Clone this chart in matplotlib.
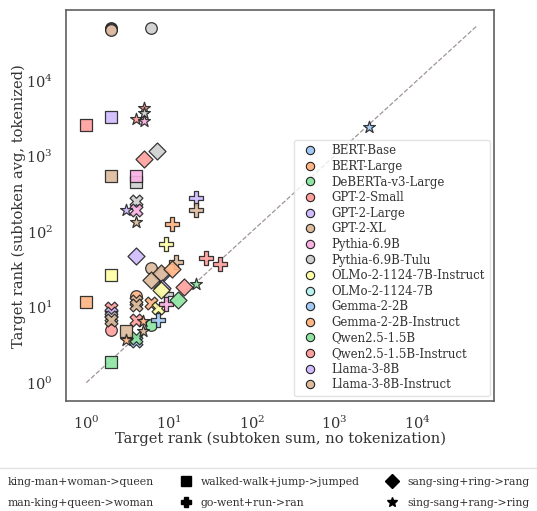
import matplotlib
matplotlib.use("Agg")
import matplotlib.pyplot as plt
from matplotlib.lines import Line2D
import seaborn as sns
import numpy as np

sns.set_theme(style="white")
plt.rcParams["font.family"] = ["DejaVu Serif"]
plt.rcParams["mathtext.fontset"] = "dejavuserif"

models = [
    "BERT-Base", "BERT-Large", "DeBERTa-v3-Large", "GPT-2-Small", "GPT-2-Large",
    "GPT-2-XL", "Pythia-6.9B", "Pythia-6.9B-Tulu", "OLMo-2-1124-7B-Instruct",
    "OLMo-2-1124-7B", "Gemma-2-2B", "Gemma-2-2B-Instruct", "Qwen2.5-1.5B",
    "Qwen2.5-1.5B-Instruct", "Llama-3-8B", "Llama-3-8B-Instruct",
]

analogies = [
    "king-man+woman->queen", "man-king+queen->woman", "walked-walk+jump->jumped",
    "go-went+run->ran", "sang-sing+ring->rang", "sing-sang+rang->ring",
]
markers = ["o", "X", "s", "P", "D", "*"]

# (model, sum rank without tokenization, avg rank with tokenization)
queen = [
    ("GPT-2-Small", 2.0, 49000), ("GPT-2-Large", 2.0, 48000), ("GPT-2-XL", 2.0, 46000),
    ("Pythia-6.9B-Tulu", 6.1, 50000), ("Llama-3-8B-Instruct", 6.0, 33),
    ("Gemma-2-2B-Instruct", 4.0, 14), ("Qwen2.5-1.5B-Instruct", 2.0, 5.0),
    ("Qwen2.5-1.5B", 6.0, 5.8),
]
woman = [
    ("Pythia-6.9B-Tulu", 4.0, 250), ("Pythia-6.9B", 4.0, 195),
    ("Llama-3-8B-Instruct", 4.0, 12.0), ("GPT-2-XL", 4.0, 10.8),
    ("BERT-Large", 6.0, 11.2), ("OLMo-2-1124-7B-Instruct", 7.3, 9.6),
    ("GPT-2-Small", 4.0, 6.7), ("Qwen2.5-1.5B-Instruct", 2.0, 9.8),
    ("Llama-3-8B", 2.0, 8.3), ("Pythia-6.9B-Tulu", 2.0, 7.4),
    ("GPT-2-XL", 2.0, 6.8), ("Gemma-2-2B", 4.0, 3.6), ("Qwen2.5-1.5B", 4.0, 3.9),
]
jumped = [
    ("GPT-2-Small", 1.0, 2600), ("GPT-2-Large", 2.0, 3300), ("GPT-2-XL", 2.0, 540),
    ("Pythia-6.9B-Tulu", 4.0, 450), ("Pythia-6.9B", 4.0, 550),
    ("OLMo-2-1124-7B-Instruct", 2.0, 27), ("Gemma-2-2B-Instruct", 1.0, 11.6),
    ("Qwen2.5-1.5B", 2.0, 1.9), ("Llama-3-8B-Instruct", 3.05, 4.9),
]
ran = [
    ("Llama-3-8B", 21.5, 280), ("Llama-3-8B-Instruct", 21.5, 195),
    ("Gemma-2-2B-Instruct", 11.0, 126), ("OLMo-2-1124-7B-Instruct", 9.1, 68),
    ("GPT-2-XL", 12.3, 40), ("GPT-2-Small", 27.7, 45),
    ("Qwen2.5-1.5B-Instruct", 41.0, 37), ("Pythia-6.9B-Tulu", 9.1, 15),
    ("Pythia-6.9B", 9.1, 11), ("Gemma-2-2B", 7.3, 6.7),
]
rang = [
    ("Pythia-6.9B-Tulu", 7.1, 1150), ("GPT-2-Small", 5.0, 900),
    ("Llama-3-8B", 4.0, 47), ("GPT-2-Large", 8.1, 27), ("GPT-2-XL", 6.0, 23),
    ("Llama-3-8B-Instruct", 8.1, 28), ("Gemma-2-2B-Instruct", 11.0, 32),
    ("Llama-3-8B", 8.3, 18), ("OLMo-2-1124-7B-Instruct", 8.1, 17),
    ("Qwen2.5-1.5B-Instruct", 15.0, 18.5), ("Qwen2.5-1.5B", 13.0, 12.3),
]
ring = [
    ("BERT-Base", 2600, 2450), ("GPT-2-Small", 5.0, 4300),
    ("Pythia-6.9B-Tulu", 5.0, 3750), ("Qwen2.5-1.5B-Instruct", 4.0, 3100),
    ("Pythia-6.9B", 5.0, 2950), ("Llama-3-8B", 3.05, 195),
    ("Llama-3-8B-Instruct", 4.0, 132), ("Qwen2.5-1.5B", 21.5, 20),
    ("BERT-Large", 4.9, 6.5), ("GPT-2-XL", 4.9, 4.8),
    ("Gemma-2-2B-Instruct", 3.05, 3.7),
]
series = [queen, woman, jumped, ran, rang, ring]
sizes = [70, 85, 75, 90, 75, 80]

palette = sns.color_palette("pastel", 10)
colors = {m: palette[i % 10] for i, m in enumerate(models)}

fig = plt.figure(figsize=(5.37, 5.11), dpi=100)
ax = fig.add_axes([0.123, 0.215, 0.797, 0.765])

for pts, mk, sz in zip(series, markers, sizes):
    for name, xv, yv in pts:
        ax.scatter(xv, yv, marker=mk, s=sz, color=colors[name],
                   edgecolor="#222222", linewidth=0.9, alpha=0.9, zorder=3)

lo, hi = 0.57, 85000
ax.plot([1, 52000], [1, 52000], ls="--", color="#a09595", lw=0.9, zorder=1)
ax.set_xscale("log")
ax.set_yscale("log")
ax.set_xlim(lo, hi)
ax.set_ylim(lo, hi)
ax.xaxis.set_major_locator(matplotlib.ticker.FixedLocator([1, 10, 100, 1e3, 1e4]))
ax.yaxis.set_major_locator(matplotlib.ticker.FixedLocator([1, 10, 100, 1e3, 1e4]))
ax.xaxis.set_minor_locator(matplotlib.ticker.NullLocator())
ax.yaxis.set_minor_locator(matplotlib.ticker.NullLocator())
ax.tick_params(labelsize=10.5, colors="#333333")
for sp in ax.spines.values():
    sp.set_color("#606060")
    sp.set_linewidth(1.2)
ax.set_xlabel("Target rank (subtoken sum, no tokenization)", fontsize=10.5,
              color="#333333", labelpad=0)
ax.set_ylabel("Target rank (subtoken avg, tokenized)", fontsize=10.5,
              color="#333333", labelpad=0)

model_handles = [Line2D([], [], marker="o", ls="", markersize=6, markerfacecolor=colors[m],
                        markeredgecolor="#222222", markeredgewidth=0.8) for m in models]
leg = ax.legend(model_handles, models, loc="lower right", fontsize=8.5, frameon=True,
                borderpad=0.4, labelspacing=0.22, handletextpad=0.8, borderaxespad=0,
                bbox_to_anchor=(0.99, 0.013))
leg.get_frame().set_edgecolor("#dddddd")
for t in leg.get_texts():
    t.set_color("#333333")

shape_handles = [Line2D([], [], marker=mk, ls="", markersize=7, color="black") for mk in markers]
fleg = fig.legend(shape_handles, analogies, loc="upper center", ncol=3,
                  bbox_to_anchor=(0.4755, 0.0841), fontsize=7.8, frameon=True,
                  columnspacing=1.95, handletextpad=0.4, labelspacing=0.95,
                  borderpad=0.85, borderaxespad=0)
fleg.get_frame().set_edgecolor("#dddddd")
for t in fleg.get_texts():
    t.set_color("#333333")

fig.savefig("out.png", dpi=100)
